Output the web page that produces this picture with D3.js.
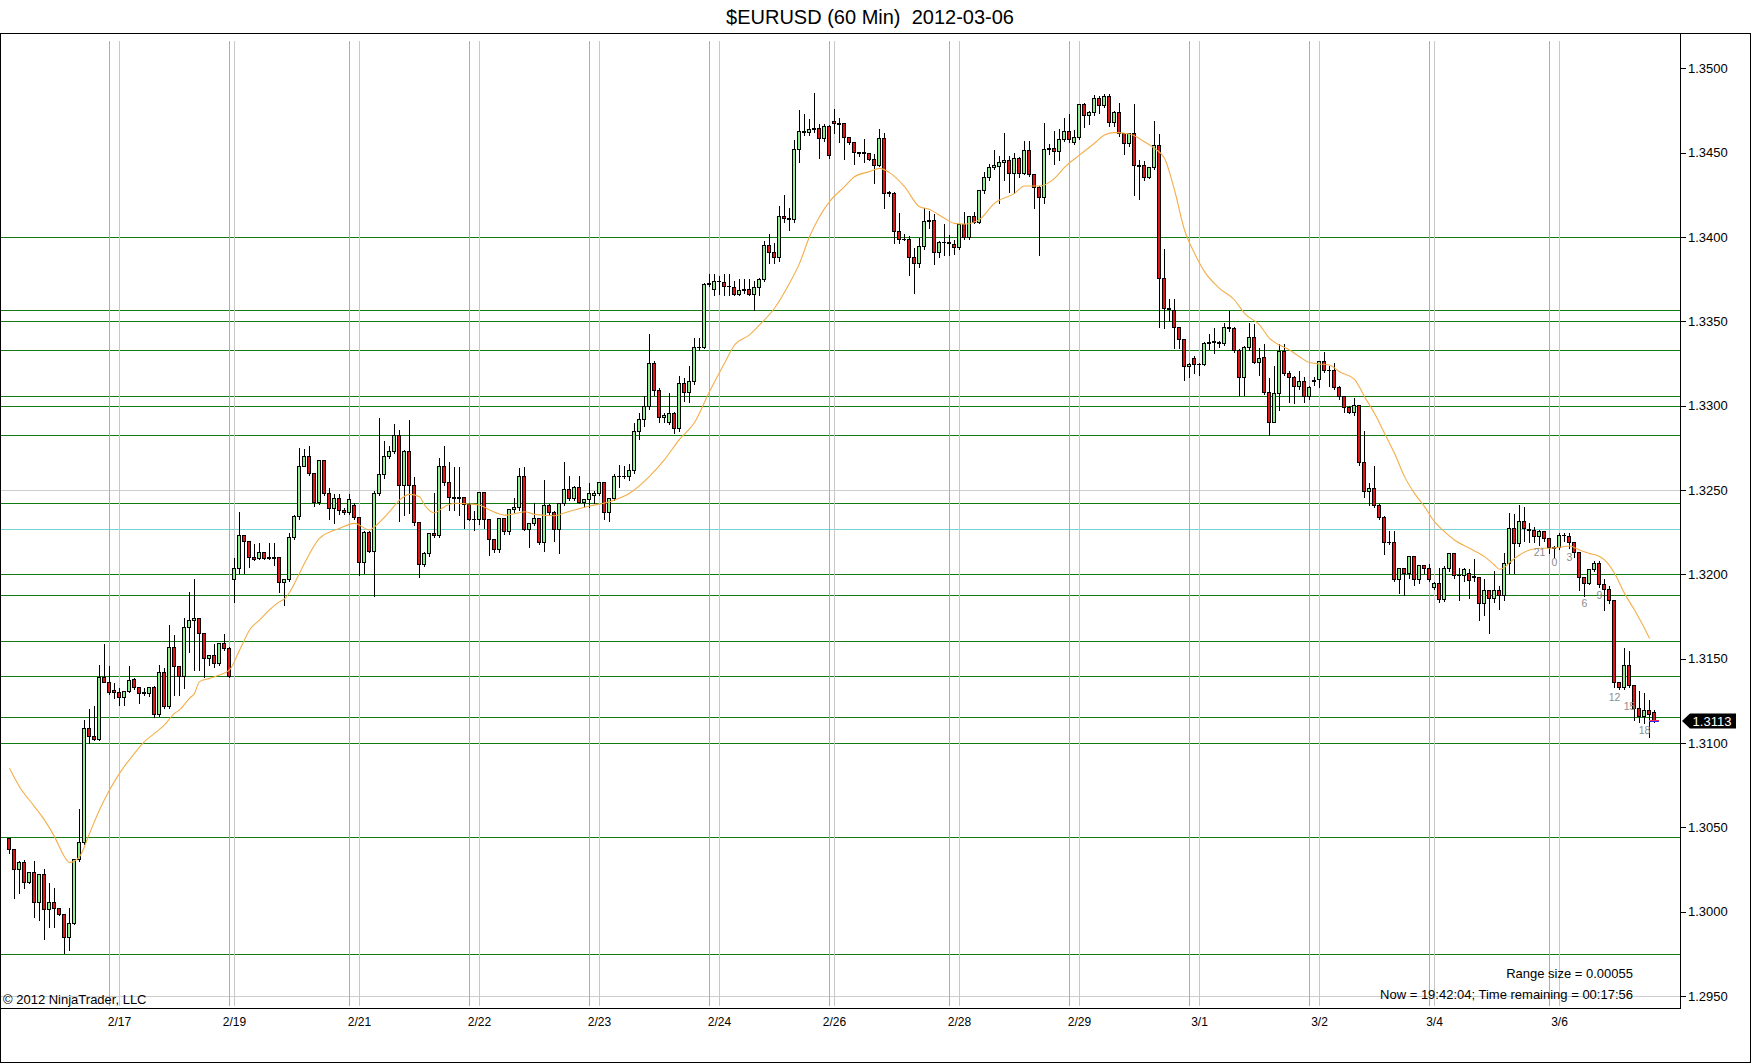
<!DOCTYPE html>
<html><head><meta charset="utf-8">
<script src="https://cdn.jsdelivr.net/npm/d3@7"></script>
<style>
html,body{margin:0;padding:0;background:#fff;}
svg{display:block;}
text{font-family:"Liberation Sans",Arial,Helvetica,sans-serif;}
</style>
</head><body>
<svg id="chart" width="1752" height="1064"></svg>
<script>
const title = "$EURUSD (60 Min)  2012-03-06";

const open = [
1.30435,1.3037,1.30253,1.30296,1.30174,1.30233,1.30059,1.30221,1.30016,1.30059,
1.3002,1.29984,1.29848,1.29931,1.3031,1.30415,1.31087,1.31042,1.31022,1.31393,
1.31364,1.31314,1.313,1.31271,1.31306,1.31377,1.3133,1.31302,1.31294,1.31334,
1.3117,1.31423,1.31221,1.31567,1.31458,1.31397,1.3169,1.31729,1.31739,1.3165,
1.31502,1.31524,1.31472,1.31591,1.31561,1.3197,1.32036,1.32233,1.32198,1.32101,
1.32095,1.32134,1.32101,1.32101,1.32101,1.31953,1.3197,1.32219,1.32346,1.32642,
1.32699,1.32598,1.3243,1.32675,1.3248,1.32391,1.32454,1.32381,1.32367,1.32411,
1.32338,1.32071,1.32251,1.3214,1.3248,1.32593,1.32701,1.32733,1.32828,1.32527,
1.32733,1.32527,1.32308,1.32059,1.32128,1.32243,1.32233,1.32642,1.32545,1.32456,
1.32456,1.32456,1.32417,1.3233,1.32326,1.32486,1.32326,1.32207,1.32148,1.32336,
1.32257,1.32385,1.32397,1.32583,1.32268,1.32302,1.32332,1.32193,1.32411,1.32371,
1.32268,1.32421,1.32504,1.3245,1.3252,1.3243,1.32444,1.3247,1.3248,1.32549,
1.32371,1.3245,1.32585,1.3258,1.32585,1.3262,1.3285,1.3292,1.32998,1.33255,
1.33093,1.32934,1.32905,1.32958,1.3287,1.33132,1.33083,1.33148,1.33345,1.3335,
1.33719,1.33689,1.33741,1.33735,1.33711,1.33705,1.33662,1.33685,1.33691,1.33662,
1.33705,1.33749,1.33952,1.33912,1.33879,1.34124,1.34114,1.34104,1.34519,1.3463,
1.34624,1.34638,1.34644,1.34584,1.34657,1.34689,1.34669,1.34673,1.34594,1.34561,
1.34501,1.34501,1.34495,1.34462,1.34426,1.34588,1.34266,1.34262,1.34035,1.33988,
1.33988,1.33883,1.33843,1.33946,1.34096,1.34102,1.33909,1.33968,1.33968,1.3396,
1.33942,1.34074,1.34001,1.34126,1.3409,1.34278,1.34357,1.34416,1.34422,1.34442,
1.34456,1.34381,1.34466,1.34381,1.34515,1.34373,1.34298,1.34234,1.34519,1.34525,
1.34509,1.3458,1.3463,1.34564,1.3459,1.34788,1.34723,1.34738,1.34821,1.34782,
1.34835,1.34683,1.34738,1.34614,1.34555,1.34614,1.34426,1.34426,1.34357,1.34412,
1.34545,1.33754,1.33577,1.33567,1.33464,1.33393,1.33235,1.3328,1.33247,1.33247,
1.33369,1.33385,1.33375,1.33372,1.33468,1.33458,1.3333,1.33171,1.33349,1.33405,
1.3326,1.33286,1.33083,1.32905,1.33077,1.33326,1.33191,1.33168,1.33116,1.33148,
1.33057,1.33148,1.33156,1.33266,1.33211,1.33211,1.33112,1.33057,1.3299,1.32962,
1.33004,1.32668,1.32494,1.3251,1.32411,1.32342,1.32193,1.32193,1.3197,1.32035,
1.3201,1.32109,1.3197,1.32055,1.32039,1.31923,1.3195,1.31852,1.32035,1.32128,
1.31996,1.31996,1.32005,1.31986,1.31986,1.31828,1.31907,1.31858,1.31907,1.31875,
1.32069,1.32273,1.32184,1.32318,1.32269,1.32263,1.32227,1.32259,1.32213,1.3216,
1.3216,1.32233,1.32227,1.32194,1.32134,1.31982,1.3195,1.3203,1.32069,1.31942,
1.31911,1.31848,1.31364,1.31334,1.31462,1.31344,1.31206,1.3116,1.31196,1.31186
];

const high = [
1.30445,1.3038,1.30306,1.3031,1.3024,1.30306,1.3023,1.30257,1.30178,1.30148,
1.3003,1.2999,1.3003,1.30315,1.30613,1.3114,1.31206,1.31225,1.31468,1.31591,
1.31462,1.31364,1.31334,1.3131,1.31462,1.31393,1.31334,1.31334,1.31334,1.31344,
1.31468,1.31453,1.31704,1.31644,1.3146,1.31749,1.31901,1.31976,1.31745,1.3166,
1.3153,1.31591,1.31601,1.3165,1.31575,1.321,1.32378,1.3224,1.322,1.32184,
1.32194,1.3214,1.32194,1.32194,1.3211,1.3198,1.3225,1.3236,1.32752,1.3275,
1.32766,1.326,1.3268,1.3268,1.32516,1.3248,1.32484,1.324,1.3248,1.3243,
1.3234,1.3226,1.3226,1.325,1.3293,1.32796,1.32766,1.32895,1.32863,1.3274,
1.32918,1.32583,1.3231,1.3214,1.3225,1.32486,1.32697,1.32766,1.32671,1.32642,
1.32642,1.3246,1.3243,1.3238,1.32494,1.32494,1.3233,1.3221,1.3234,1.3234,
1.3239,1.3246,1.32634,1.32642,1.3231,1.3243,1.3234,1.32563,1.3242,1.3238,
1.3243,1.32671,1.32588,1.3253,1.32588,1.3245,1.32549,1.325,1.32555,1.32555,
1.3246,1.326,1.32652,1.3265,1.3266,1.329,1.3296,1.3306,1.33428,1.3327,
1.3311,1.3296,1.33083,1.3297,1.33182,1.3317,1.33241,1.33409,1.33409,1.3373,
1.33784,1.33788,1.33774,1.33788,1.33788,1.33745,1.33754,1.33754,1.33754,1.33745,
1.33764,1.33982,1.34025,1.33972,1.34189,1.34254,1.34179,1.34578,1.34756,1.34732,
1.34703,1.34861,1.34673,1.34673,1.3467,1.34762,1.34713,1.3468,1.346,1.34565,
1.3451,1.34584,1.34505,1.34495,1.34644,1.34624,1.3428,1.3427,1.34149,1.34021,
1.34011,1.33942,1.34,1.34179,1.34159,1.3414,1.3398,1.3408,1.3402,1.3399,
1.34085,1.34153,1.3413,1.34153,1.34285,1.34393,1.34436,1.34519,1.34485,1.34624,
1.34485,1.34505,1.3448,1.34574,1.34574,1.3438,1.3431,1.34683,1.34555,1.34634,
1.34644,1.34709,1.34733,1.3464,1.34796,1.348,1.3475,1.34847,1.34841,1.34855,
1.34855,1.3475,1.34802,1.3462,1.34624,1.34796,1.3446,1.34456,1.3442,1.34693,
1.34614,1.33932,1.3364,1.33636,1.3347,1.334,1.3326,1.333,1.3326,1.3338,
1.33428,1.33468,1.3339,1.33497,1.33567,1.3347,1.3334,1.3336,1.33497,1.33491,
1.3335,1.33369,1.33172,1.33241,1.33369,1.33369,1.33211,1.3318,1.33211,1.33175,
1.3312,1.33175,1.3327,1.33326,1.33241,1.3326,1.3312,1.3306,1.33004,1.33053,
1.3301,1.32855,1.32549,1.32648,1.3242,1.3235,1.32263,1.32263,1.3204,1.3204,
1.32115,1.32115,1.3206,1.3206,1.32065,1.3196,1.32045,1.32055,1.32134,1.32134,
1.32045,1.32045,1.3204,1.32095,1.3199,1.31976,1.3191,1.32026,1.31937,1.32134,
1.32371,1.32361,1.32417,1.32405,1.32312,1.32286,1.32267,1.32265,1.32223,1.32174,
1.32253,1.32253,1.32253,1.322,1.3214,1.3199,1.3204,1.32085,1.32085,1.31976,
1.31937,1.31855,1.3137,1.31571,1.31551,1.3135,1.31314,1.31304,1.31259,1.312
];

const low = [
1.3035,1.30079,1.30109,1.3014,1.30168,1.2997,1.29951,1.29836,1.29911,1.29907,
1.2998,1.29753,1.29773,1.29925,1.303,1.304,1.30998,1.31015,1.31015,1.3136,
1.3129,1.31265,1.31225,1.31225,1.313,1.3132,1.31239,1.31285,1.3128,1.31156,
1.3116,1.31206,1.3121,1.31285,1.31285,1.31324,1.31542,1.31433,1.31433,1.31393,
1.31462,1.31453,1.3146,1.3155,1.3139,1.31838,1.32006,1.32006,1.32045,1.32085,
1.3209,1.3209,1.3209,1.32055,1.31897,1.31818,1.3196,1.3221,1.3233,1.3264,
1.3259,1.32405,1.32415,1.3247,1.3233,1.32306,1.3236,1.3236,1.3236,1.3233,
1.31996,1.32006,1.3213,1.31871,1.3247,1.3257,1.3269,1.3272,1.32318,1.3235,
1.32361,1.3229,1.31986,1.3205,1.3211,1.3222,1.3222,1.3253,1.32381,1.32381,
1.32351,1.32272,1.3232,1.32263,1.323,1.32272,1.32114,1.3213,1.32134,1.3224,
1.3224,1.3237,1.3238,1.3226,1.32164,1.3229,1.3218,1.3214,1.3236,1.322,
1.32124,1.3241,1.3244,1.3244,1.3242,1.324,1.324,1.3242,1.3247,1.3233,
1.32316,1.3244,1.3252,1.3257,1.3256,1.326,1.328,1.3288,1.3298,1.3306,
1.329,1.329,1.3289,1.3284,1.3285,1.3303,1.3302,1.3313,1.3333,1.3334,
1.3371,1.33656,1.33662,1.33656,1.33656,1.33656,1.33656,1.33669,1.33656,1.33567,
1.33656,1.3374,1.33843,1.33843,1.3386,1.34091,1.34041,1.3409,1.34446,1.34604,
1.34604,1.3462,1.34466,1.3457,1.34466,1.34614,1.34565,1.3446,1.3455,1.34432,
1.3448,1.34446,1.34456,1.34321,1.3442,1.34169,1.3424,1.33962,1.33962,1.3398,
1.33774,1.33665,1.33824,1.3393,1.3405,1.3384,1.33883,1.33893,1.3389,1.339,
1.3393,1.3399,1.3399,1.3408,1.3408,1.3426,1.3434,1.344,1.34203,1.34337,
1.34268,1.34258,1.34357,1.3437,1.3436,1.34173,1.33893,1.34203,1.3449,1.3443,
1.34456,1.3457,1.3456,1.3455,1.3458,1.34653,1.34667,1.3472,1.34733,1.3477,
1.3466,1.3466,1.346,1.34491,1.3454,1.34248,1.34223,1.3434,1.34347,1.344,
1.33468,1.33458,1.335,1.3334,1.3334,1.33152,1.33172,1.33191,1.33181,1.3324,
1.33333,1.33314,1.3335,1.3336,1.3344,1.3332,1.33063,1.33063,1.3333,1.3325,
1.3318,1.3307,1.32826,1.329,1.32974,1.3318,1.33023,1.33017,1.331,1.33023,
1.3304,1.33122,1.33112,1.332,1.33116,1.331,1.3304,1.32962,1.32954,1.32944,
1.3265,1.3246,1.32411,1.324,1.3233,1.3212,1.3218,1.3196,1.31887,1.31877,
1.31976,1.31937,1.31947,1.3201,1.3196,1.3191,1.31838,1.3184,1.3202,1.3198,
1.31848,1.3196,1.31858,1.3196,1.31729,1.31759,1.3165,1.31838,1.31792,1.31848,
1.3201,1.3201,1.3217,1.322,1.32193,1.32193,1.32174,1.322,1.32124,1.32105,
1.3215,1.322,1.32154,1.32105,1.31907,1.31871,1.3194,1.3202,1.31927,1.31788,
1.3183,1.31334,1.3132,1.3132,1.3133,1.31136,1.31126,1.31116,1.31038,1.31125
];

const close = [
1.3037,1.30253,1.30296,1.30174,1.30233,1.30059,1.30221,1.30016,1.30059,1.3002,
1.29984,1.29848,1.29931,1.3031,1.30415,1.31087,1.31042,1.31022,1.31393,1.31364,
1.313,1.313,1.31271,1.31306,1.31374,1.3133,1.31298,1.31294,1.3133,1.3117,
1.31423,1.31221,1.31567,1.31458,1.31397,1.3169,1.31729,1.31739,1.3165,1.31502,
1.31524,1.31472,1.31591,1.31561,1.31397,1.32036,1.32233,1.32198,1.32101,1.32089,
1.32134,1.32095,1.32095,1.32095,1.31953,1.3197,1.32219,1.32346,1.32642,1.32699,
1.32598,1.3243,1.32675,1.3248,1.32391,1.32454,1.32381,1.32367,1.32444,1.32338,
1.32071,1.32251,1.3214,1.3248,1.32593,1.32701,1.32733,1.32828,1.32527,1.32733,
1.32527,1.32308,1.32059,1.32128,1.32243,1.32233,1.32642,1.32545,1.32456,1.32454,
1.32454,1.32417,1.3233,1.32326,1.32486,1.32326,1.32207,1.32148,1.32336,1.32257,
1.32385,1.32397,1.32583,1.32268,1.32302,1.32332,1.32193,1.32411,1.32371,1.32268,
1.32421,1.32504,1.3245,1.3252,1.3243,1.32444,1.3248,1.3248,1.32549,1.32371,
1.3245,1.32585,1.3258,1.32585,1.3262,1.3285,1.3292,1.32998,1.33255,1.33093,
1.32934,1.32944,1.32958,1.3287,1.33132,1.33083,1.33148,1.33345,1.3335,1.33719,
1.33725,1.33741,1.3374,1.33711,1.3371,1.33662,1.33685,1.33691,1.33662,1.33705,
1.33749,1.33952,1.33912,1.33879,1.34124,1.34114,1.34104,1.34519,1.3463,1.34624,
1.34638,1.34644,1.34584,1.34657,1.34485,1.34673,1.34673,1.34594,1.34561,1.34501,
1.34495,1.34495,1.34462,1.34426,1.34588,1.34262,1.3426,1.34035,1.33988,1.33986,
1.33883,1.33843,1.33946,1.34096,1.341,1.33909,1.33968,1.33969,1.33965,1.33942,
1.34074,1.34001,1.34126,1.3409,1.34278,1.34357,1.34416,1.34426,1.34442,1.34456,
1.34381,1.34466,1.34381,1.34515,1.34373,1.34298,1.34234,1.34519,1.34525,1.34509,
1.3458,1.3463,1.3458,1.3459,1.34788,1.34723,1.34738,1.34821,1.34782,1.34835,
1.34683,1.34738,1.34614,1.34555,1.34614,1.34426,1.34422,1.34357,1.34412,1.34545,
1.33754,1.33577,1.3357,1.33464,1.33393,1.33235,1.33247,1.33247,1.33249,1.33369,
1.33379,1.33375,1.33372,1.33468,1.33458,1.3333,1.33171,1.33349,1.33405,1.3326,
1.33284,1.33083,1.32905,1.33077,1.33326,1.33191,1.33168,1.33116,1.33148,1.33057,
1.33108,1.33152,1.33266,1.33211,1.33209,1.33112,1.33057,1.3299,1.32962,1.33004,
1.32668,1.32494,1.3251,1.32411,1.32342,1.32193,1.32191,1.3197,1.32035,1.3201,
1.32109,1.3197,1.32055,1.32039,1.3197,1.3195,1.31852,1.32035,1.32128,1.31996,
1.31994,1.3203,1.31966,1.31988,1.31828,1.31907,1.31858,1.31907,1.31875,1.32069,
1.32273,1.32184,1.32318,1.32273,1.32263,1.32227,1.32259,1.32213,1.3216,1.32158,
1.32233,1.32231,1.32194,1.32134,1.31982,1.3195,1.3203,1.32069,1.31942,1.31911,
1.31848,1.31364,1.31334,1.31462,1.31344,1.31206,1.3116,1.31196,1.31172,1.3113
];

// moving average line, read at these bars
const maBar = [0,2,5,7,9,11,12,14,16,18,20,22,25,27,29,31,33,34,36,37,38,40,42,44,46,47,48,50,52,54,55,56,58,59,62,66,69,72,73,76,78,80,82,83,85,87,89,92,94,96,99,102,103,105,109,110,113,116,120,124,128,131,134,137,140,143,145,148,150,153,156,158,160,162,164,167,169,172,174,176,179,182,184,187,189,191,194,197,201,203,206,209,211,214,217,219,221,224,227,229,231,233,235,237,239,242,245,247,250,252,254,256,258,260,262,264,266,269,271,273,275,277,279,281,283,285,287,289,292,295,297,298,299,300,302,304,306,308,310,312,314,316,318,319,321,323,325,327,328];
const maValue = [1.3085,1.30741,1.30623,1.30543,1.30445,1.30326,1.30291,1.30326,1.30464,1.30603,1.30721,1.3082,1.30939,1.31008,1.31057,1.31107,1.31176,1.31196,1.31265,1.31294,1.31364,1.31383,1.31403,1.31433,1.3155,1.31611,1.3167,1.31729,1.31789,1.31838,1.31854,1.31892,1.32006,1.32065,1.32213,1.32272,1.32302,1.32263,1.32282,1.32371,1.3244,1.32474,1.3246,1.32411,1.32365,1.32401,1.32421,1.32417,1.32411,1.32381,1.32351,1.32365,1.32371,1.32355,1.32347,1.32355,1.32381,1.32405,1.3243,1.3248,1.3258,1.3268,1.328,1.329,1.33083,1.33251,1.33359,1.33419,1.33478,1.33577,1.33725,1.33843,1.34001,1.3412,1.34209,1.34298,1.34357,1.34387,1.34406,1.34381,1.34298,1.34179,1.34163,1.3411,1.3408,1.34076,1.34104,1.34199,1.34258,1.34302,1.34302,1.34347,1.34412,1.34485,1.34555,1.34604,1.34618,1.3461,1.34564,1.34525,1.34466,1.34278,1.34041,1.33903,1.33794,1.33695,1.33626,1.33547,1.33478,1.33399,1.33359,1.3333,1.3329,1.33255,1.33247,1.33241,1.33201,1.33156,1.33053,1.32954,1.32836,1.32717,1.32579,1.3248,1.32401,1.32312,1.32253,1.32203,1.32154,1.32105,1.32055,1.3203,1.32041,1.32069,1.32114,1.32144,1.32154,1.32154,1.3216,1.32168,1.32144,1.32124,1.32105,1.32085,1.32006,1.31887,1.31788,1.3168,1.3162];

const sessionBars = [20,44,68,92,116,140,164,188,212,236,260,284,308];
const dateBars = [22,45,70,94,118,142,165,190,214,238,262,285,310];
const dateLabels = ["2/17","2/19","2/21","2/22","2/23","2/24","2/26","2/28","2/29","3/1","3/2","3/4","3/6"];
const yTicks = [1.2950,1.3000,1.3050,1.3100,1.3150,1.3200,1.3250,1.3300,1.3350,1.3400,1.3450,1.3500];
const greenLevels = [1.3400,1.33565,1.3350,1.3333,1.33056,1.3300,1.32825,1.32421,1.3200,1.31875,1.31605,1.31397,1.31152,1.3100,1.30441,1.29747];
const cyanLevels = [1.32266];
const grayLevels = [1.3250,1.2950];
const counterBars = [306,309,312,315,318,321,324,327];
const counterLabels = ["21","0","3","6","9","12","15","18"];
const counterPrices = [1.32128,1.32069,1.32099,1.31828,1.31873,1.31269,1.31215,1.31073];
const lastPrice = 1.3113;
const infoLines = ["Range size = 0.00055","Now = 19:42:04; Time remaining = 00:17:56"];
const copyright = "\u00A9 2012 NinjaTrader, LLC";

// ---------- drawing ----------
const W = 1752, H = 1064;
const P = {left:0, right:1680, top:33, bottom:1008};
const N = Math.min(open.length, high.length, low.length, close.length);
const svg = d3.select("#chart");
svg.append("rect").attr("width",W).attr("height",H).attr("fill","#fff");

const x = d3.scaleLinear().domain([0, N-1]).range([9, 9 + 5*(N-1)]);
const y = d3.scaleLinear().domain([1.295, 1.35]).range([996.05, 68.2]);
const cx = i => Math.round(x(i));
const py = v => Math.round(y(v)) + 0.5;

svg.append("defs").append("clipPath").attr("id","plotclip")
  .append("rect").attr("x",1).attr("y",P.top+1).attr("width",P.right-1).attr("height",P.bottom-P.top-1);
const g = svg.append("g").attr("clip-path","url(#plotclip)");

// horizontal levels
const hl = g.append("g").attr("shape-rendering","crispEdges");
hl.selectAll(".gray").data(grayLevels).join("line")
  .attr("x1",1).attr("x2",P.right).attr("y1",py).attr("y2",py)
  .attr("stroke","#cdcdcd").attr("stroke-width",1);
hl.selectAll(".grn").data(greenLevels).join("line")
  .attr("x1",1).attr("x2",P.right).attr("y1",py).attr("y2",py)
  .attr("stroke","#127c12").attr("stroke-width",1);
hl.selectAll(".cy").data(cyanLevels).join("line")
  .attr("x1",1).attr("x2",P.right).attr("y1",py).attr("y2",py)
  .attr("stroke","#74d3d3").attr("stroke-width",1);

// vertical session / date lines
const vl = g.append("g").attr("shape-rendering","crispEdges");
vl.selectAll(".d").data(dateBars).join("line")
  .attr("x1",d=>cx(d)+0.5).attr("x2",d=>cx(d)+0.5).attr("y1",41).attr("y2",1006)
  .attr("stroke","#c8c8c8").attr("stroke-width",1);
vl.selectAll(".s").data(sessionBars).join("line")
  .attr("x1",d=>cx(d)+0.5).attr("x2",d=>cx(d)+0.5).attr("y1",41).attr("y2",1006)
  .attr("stroke","#f2a623").attr("stroke-width",1);

// candles
const bars = d3.range(N);
const cg = g.append("g").attr("shape-rendering","crispEdges");
cg.selectAll(".wick").data(bars).join("line")
  .attr("x1",i=>cx(i)+0.5).attr("x2",i=>cx(i)+0.5)
  .attr("y1",i=>py(high[i])).attr("y2",i=>py(low[i])+0.5)
  .attr("stroke","#000").attr("stroke-width",1);
bars.forEach(i=>{
  const top = py(Math.max(open[i],close[i]));
  const bot = py(Math.min(open[i],close[i]));
  const up = close[i] >= open[i];
  const c = cx(i);
  if (bot - top < 1) {
    cg.append("line").attr("x1",c-2).attr("x2",c+2).attr("y1",top).attr("y2",top)
      .attr("stroke","#000").attr("stroke-width",1);
  } else {
    cg.append("rect").attr("x",c-1.5).attr("y",top).attr("width",3).attr("height",bot-top)
      .attr("fill", up ? "#90ee90" : "#e01616").attr("stroke","#000").attr("stroke-width",1);
  }
});

// moving average
const maPts = maBar.map((b,k)=>[b, maValue[k]]);
g.append("path").datum(maPts)
  .attr("d", d3.line().x(d=>x(d[0])+0.5).y(d=>y(d[1])).curve(d3.curveMonotoneX))
  .attr("fill","none").attr("stroke","#f3ae4a").attr("stroke-width",1.1);

// bar counters
g.selectAll(".cnt").data(counterBars).join("text")
  .attr("x",d=>cx(d)+0.5).attr("y",(d,k)=>y(counterPrices[k])+3.6)
  .attr("text-anchor","middle").attr("font-size",10.5).attr("fill","#8c8c8c")
  .text((d,k)=>counterLabels[k]);

// bid/ask markers at last bar
const lc = cx(N-1);
g.append("line").attr("x1",lc-5).attr("x2",lc+5).attr("y1",py(lastPrice)-1).attr("y2",py(lastPrice)-1)
  .attr("stroke","#ff2a55").attr("stroke-width",1).attr("shape-rendering","crispEdges");
g.append("line").attr("x1",lc-5).attr("x2",lc+5).attr("y1",py(lastPrice)).attr("y2",py(lastPrice))
  .attr("stroke","#2a2aff").attr("stroke-width",1).attr("shape-rendering","crispEdges");

// info texts
svg.append("text").attr("x",1633).attr("y",977.5).attr("text-anchor","end")
  .attr("font-size",13).attr("fill","#000").text(infoLines[0]);
svg.append("text").attr("x",1633).attr("y",999).attr("text-anchor","end")
  .attr("font-size",13).attr("fill","#000").text(infoLines[1]);
svg.append("text").attr("x",3).attr("y",1003.5)
  .attr("font-size",13).attr("fill","#000").text(copyright);

// y axis (right)
const yAxis = d3.axisRight(y).tickValues(yTicks).tickFormat(d3.format(".4f")).tickSize(6).tickSizeOuter(0).tickPadding(2);
const ya = svg.append("g").attr("transform",`translate(${P.right},0)`).call(yAxis);
ya.select(".domain").remove();
ya.selectAll("text").attr("font-size",13).attr("fill","#000").attr("font-family","'Liberation Sans',Arial,sans-serif");
ya.selectAll("line").attr("stroke","#000").attr("shape-rendering","crispEdges");

// x axis (bottom)
const xAxis = d3.axisBottom(x).tickValues(dateBars).tickFormat((d,k)=>dateLabels[k]).tickSize(0).tickSizeOuter(0).tickPadding(9);
const xa = svg.append("g").attr("transform",`translate(0,${P.bottom})`).call(xAxis);
xa.select(".domain").remove();
xa.selectAll("text").attr("font-size",12).attr("fill","#000").attr("font-family","'Liberation Sans',Arial,sans-serif");

// frames
const fr = svg.append("g").attr("shape-rendering","crispEdges").attr("fill","none").attr("stroke","#000");
fr.append("rect").attr("x",0.5).attr("y",P.top+0.5).attr("width",1750).attr("height",1029);
fr.append("line").attr("x1",P.right+0.5).attr("x2",P.right+0.5).attr("y1",P.top).attr("y2",P.bottom+0.5);
fr.append("line").attr("x1",0).attr("x2",P.right+0.5).attr("y1",P.bottom+0.5).attr("y2",P.bottom+0.5);

// last price marker
const ly = y(lastPrice);
svg.append("path")
  .attr("d",`M${P.right+2},${ly} L${P.right+10},${ly-7.5} L${P.right+56},${ly-7.5} L${P.right+56},${ly+7.5} L${P.right+10},${ly+7.5} Z`)
  .attr("fill","#000");
svg.append("text").attr("x",P.right+32).attr("y",ly+4.5).attr("text-anchor","middle")
  .attr("font-size",13).attr("fill","#fff").text(d3.format(".4f")(lastPrice));

// title
svg.append("text").attr("x",870).attr("y",24).attr("text-anchor","middle")
  .attr("font-size",20).attr("fill","#000").style("white-space","pre").text(title);
</script>
</body></html>
